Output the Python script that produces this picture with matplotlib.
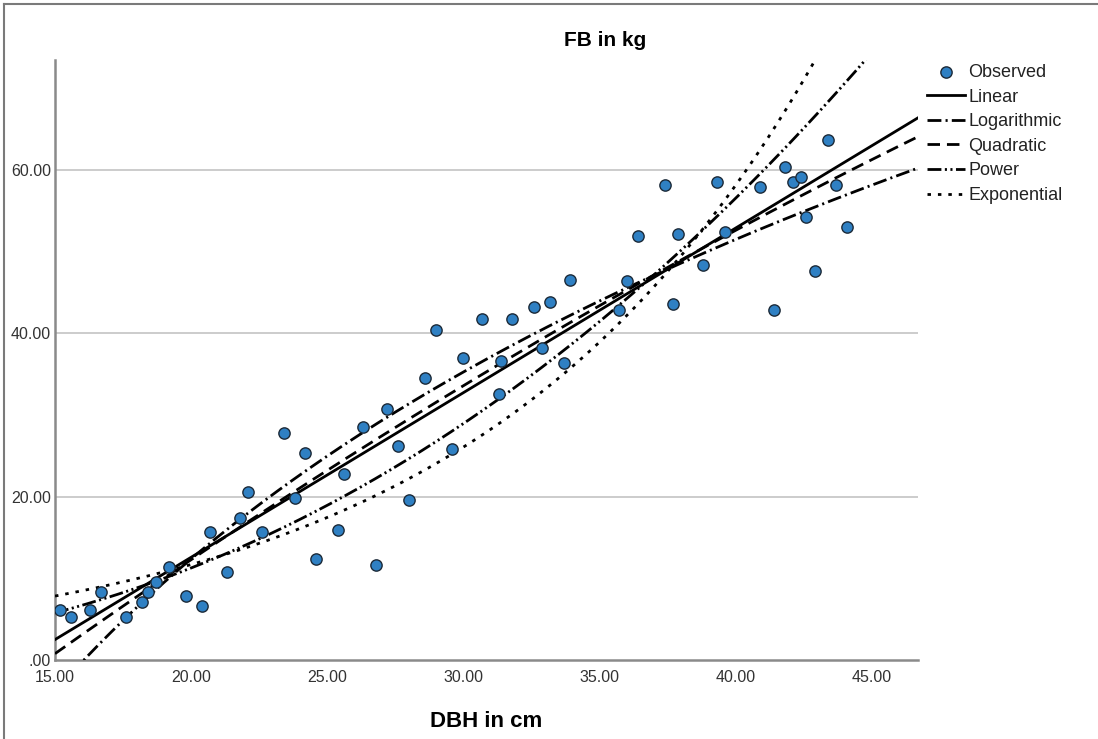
import numpy as np
import matplotlib
matplotlib.use("Agg")
import matplotlib.pyplot as plt
from matplotlib.lines import Line2D

plt.rcParams['font.family'] = ['Liberation Sans', 'DejaVu Sans']
plt.rcParams['lines.scale_dashes'] = False

dbh = [15.2, 15.6, 16.3, 16.7, 17.6, 18.2, 18.4, 18.7, 19.2, 19.8,
       20.4, 20.7, 21.3, 21.8, 22.1, 22.6, 23.4, 23.8, 24.2, 24.6,
       25.4, 25.6, 26.3, 26.8, 27.2, 27.6, 28.0, 28.6, 29.0, 29.6,
       30.0, 30.7, 31.3, 31.4, 31.8, 32.6, 32.9, 33.2, 33.7, 33.9,
       35.7, 36.0, 36.4, 37.4, 37.7, 37.9, 38.8, 39.3, 39.6, 40.9,
       41.4, 41.8, 42.1, 42.4, 42.6, 42.9, 43.4, 43.7, 44.1]
fb = [6.1, 5.3, 6.1, 8.3, 5.3, 7.1, 8.3, 9.6, 11.4, 7.8,
      6.6, 15.7, 10.8, 17.4, 20.6, 15.7, 27.8, 19.9, 25.4, 12.4,
      15.9, 22.8, 28.5, 11.6, 30.8, 26.2, 19.6, 34.6, 40.4, 25.8,
      37.0, 41.8, 32.6, 36.6, 41.8, 43.3, 38.2, 43.8, 36.4, 46.6,
      42.9, 46.4, 52.0, 58.2, 43.6, 52.2, 48.4, 58.6, 52.4, 58.0,
      42.9, 60.4, 58.5, 59.2, 54.3, 47.6, 63.7, 58.2, 53.0]

models = ["Linear", "Logarithmic", "Quadratic", "Power", "Exponential"]
x_ticks = [15, 20, 25, 30, 35, 40, 45]
y_ticks = [0, 20, 40, 60]

x = np.array(dbh)
y = np.array(fb)
xs = np.linspace(15, 46.7, 400)

# curve estimation like SPSS
lin = np.polyfit(x, y, 1)
logc = np.polyfit(np.log(x), y, 1)
quad = np.polyfit(x, y, 2)
powc = np.polyfit(np.log(x), np.log(y), 1)
expc = np.polyfit(x, np.log(y), 1)
curves = {
    "Linear": np.polyval(lin, xs),
    "Logarithmic": np.polyval(logc, np.log(xs)),
    "Quadratic": np.polyval(quad, xs),
    "Power": np.exp(np.polyval(powc, np.log(xs))),
    "Exponential": np.exp(np.polyval(expc, xs)),
}
styles = {
    "Linear": '-',
    "Logarithmic": (0, (10, 3, 1.5, 3)),
    "Quadratic": (0, (9, 5)),
    "Power": (0, (10, 2.5, 1.5, 2.5, 1.5, 2.5)),
    "Exponential": (0, (2.5, 5)),
}

fig = plt.figure(figsize=(10.98, 7.39), dpi=100)
ax = fig.add_axes([55/1098, 1-660/739, (918-55)/1098, 600/739])

for yt in y_ticks[1:]:
    ax.axhline(yt, color='#c8c8c8', lw=1.3, zorder=0)

ax.scatter(dbh, fb, s=66, color='#2f80c3', edgecolor='#1c2a38', linewidth=1.0,
           zorder=5, label='Observed')
for m in models:
    ax.plot(xs, curves[m], color='black', lw=2.0, ls=styles[m], label=m, zorder=4)

ax.set_xlim(15, 46.7)
ax.set_ylim(0, 73.5)
ax.set_xticks(x_ticks)
ax.set_xticklabels([f"{v:.2f}" for v in x_ticks])
ax.set_yticks(y_ticks)
ax.set_yticklabels([".00"] + [f"{v:.2f}" for v in y_ticks[1:]])
ax.tick_params(length=0, labelsize=11.5, labelcolor='#333333')
ax.tick_params(axis='x', pad=7)
ax.tick_params(axis='y', pad=3)
for s in ['top', 'right']:
    ax.spines[s].set_visible(False)
for s in ['left', 'bottom']:
    ax.spines[s].set_color('#8a8a8a')
    ax.spines[s].set_linewidth(1.8)

ax.set_xlabel("DBH in cm", fontsize=16, fontweight='bold', labelpad=19)
fig.text(605/1098, 1-40/739, "FB in kg", fontsize=15, fontweight='bold',
         ha='center', va='center')

ax.legend(loc='upper left', bbox_to_anchor=(927/1098, 1-64/739),
          bbox_transform=fig.transFigure, frameon=False, fontsize=13,
          handlelength=2.1, handletextpad=0.2, labelspacing=0.42,
          borderaxespad=0, borderpad=0, labelcolor='#222222')

# outer frame of the exported chart
fig.add_artist(Line2D([4/1098, 4/1098], [0, 1-4/739], color='#7a7a7a', lw=1.5,
                      transform=fig.transFigure))
fig.add_artist(Line2D([4/1098, 1], [1-4/739, 1-4/739], color='#7a7a7a', lw=1.5,
                      transform=fig.transFigure))

fig.savefig("out.png", dpi=100, facecolor='white')
